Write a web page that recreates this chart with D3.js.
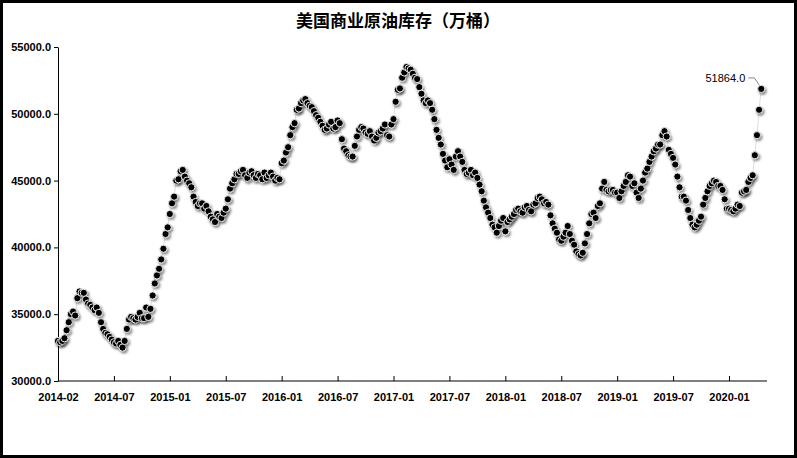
<!DOCTYPE html>
<html><head><meta charset="utf-8">
<script src="https://cdn.jsdelivr.net/npm/d3@7/dist/d3.min.js"></script>
<style>body{margin:0;background:#fff}svg{display:block}</style></head>
<body><svg id="c" width="797" height="458"></svg>
<script>
const title = "美国商业原油库存（万桶）";
const tickLabels = ["2014-02","2014-07","2015-01","2015-07","2016-01","2016-07","2017-01","2017-07","2018-01","2018-07","2019-01","2019-07","2020-01"];
const yTicks = [30000,35000,40000,45000,50000,55000];
const values = [
33000,32900,33000,33200,33800,34400,35000,35200,34900,36200,36700,36600,36600,36100,35800,35700,35500,35300,35500,35100,34400,33900,33600,33500,33300,33100,
32900,32800,33000,32700,32500,33000,33900,34600,34800,34700,34600,34800,35100,34700,34700,35500,34800,35400,36400,37300,37900,38400,39100,39900,41000,41500,
42500,43300,43800,45000,45100,45700,45800,45300,45000,44800,44500,43800,43400,43100,43300,43300,42900,43100,42700,42300,42100,41900,42500,42300,42200,42600,
42900,43600,44400,44800,45100,45500,45500,45700,45800,45400,45200,45600,45700,45400,45200,45500,45400,45100,45600,45200,45400,45600,45300,45000,45200,45100,
46300,46500,47100,47500,48400,49000,49300,50300,50400,50800,51000,51100,50800,50600,50500,50200,49900,49700,49400,49100,48800,48900,49200,49400,48900,49000,
49500,49300,48100,47400,47200,46900,46800,46800,47600,48300,48800,49000,48900,48600,48500,48700,48300,48000,48200,48600,48700,48900,49200,48400,48300,49200,
49600,50900,51800,51900,52700,53100,53500,53400,53300,53000,52700,52600,52000,51500,51000,50800,51000,50800,50300,49600,48800,48200,47700,47000,46500,46000,
46600,46200,45800,46800,47200,46800,46400,45800,45500,45600,45800,45400,45600,45200,44700,44200,43500,43000,42600,42200,41700,41500,41100,41600,42000,42200,
41200,41900,42100,42300,42500,42800,42900,42700,42600,43000,43100,42800,42700,43200,43300,43700,43800,43600,43300,43400,43200,42400,41800,41400,41100,40600,
40500,40800,41100,41600,41000,40500,40200,39700,39500,39400,39600,40300,41000,41800,42500,42600,42200,43100,43300,44400,44900,44300,44200,44300,44300,44100,
44100,43700,44200,44600,44900,45400,45300,44600,44800,44100,43700,44400,45000,45600,45900,46400,46800,47200,47400,47700,47700,48400,48700,48300,47300,47000,
46700,46200,45300,44500,43800,43800,43500,42800,42200,41700,41500,41700,42000,42300,43200,43700,44200,44600,44800,45000,44900,44600,44600,44300,43600,42900,
42900,42800,42700,42900,43200,43100,44100,44200,44300,44900,45200,45400,46900,48400,50300,51864];

const svg = d3.select("#c");
svg.append("rect").attr("x",1.5).attr("y",1.5).attr("width",794).attr("height",455).attr("fill","#fff").attr("stroke","#000").attr("stroke-width",3);
const x = d3.scaleLinear().domain([0,312]).range([58,729]);
const y = d3.scaleLinear().domain([30000,55000]).range([381,47]);

svg.append("text").attr("x",398).attr("y",27).attr("text-anchor","middle")
  .attr("font-family","'Noto Sans CJK SC'").attr("font-weight","bold").attr("font-size",17).text(title);

const fmt = d=>d.toFixed(1);
const ya = svg.append("g").attr("transform","translate(58,0)").call(d3.axisLeft(y).tickValues(yTicks).tickFormat(fmt).tickSize(4).tickSizeOuter(0));
ya.select(".domain").attr("stroke","#000");
ya.selectAll("text").attr("font-family","'Liberation Sans',Arial").attr("font-weight","bold").attr("font-size",11).attr("fill","#000").attr("x",-7);

const xa = svg.append("g").attr("transform","translate(0,381)").call(d3.axisTop(x).tickValues(d3.range(0,313,26)).tickFormat(()=>"").tickSize(5).tickSizeOuter(0));
xa.select(".domain").attr("d","M58,0H767");
xa.selectAll(".tick").append("text").attr("y",20).attr("text-anchor","middle").attr("fill","#000")
  .attr("font-family","'Liberation Sans',Arial").attr("font-weight","bold").attr("font-size",11)
  .text((d,i)=>tickLabels[i]);

const defs = svg.append("defs");
const f = defs.append("filter").attr("id","sh").attr("x","-100%").attr("y","-100%").attr("width","300%").attr("height","300%");
f.append("feDropShadow").attr("dx",1.5).attr("dy",2).attr("stdDeviation",1.2).attr("flood-color","#000").attr("flood-opacity",0.45);

svg.append("path").datum(values).attr("fill","none").attr("stroke","#ddd").attr("stroke-width",1)
  .attr("d",d3.line().x((d,i)=>x(i)).y(d=>y(d)));
svg.append("g").selectAll("circle").data(values).join("circle")
  .attr("cx",(d,i)=>x(i)).attr("cy",d=>y(d)).attr("r",3.6)
  .attr("fill","#000").attr("stroke","#e8e8e8").attr("stroke-width",1).attr("filter","url(#sh)");

const li = values.length-1;
const lx = x(li), ly = y(values[li]);
svg.append("path").attr("d",`M${lx-2},${ly-4}L${lx-7},${ly-11}H${lx-13}`).attr("fill","none").attr("stroke","#888");
svg.append("text").attr("x",lx-16).attr("y",ly-7).attr("text-anchor","end").attr("font-family","'Liberation Sans',Arial")
  .attr("font-size",11).attr("fill","#000").text(fmt(values[li]));
</script></body></html>
